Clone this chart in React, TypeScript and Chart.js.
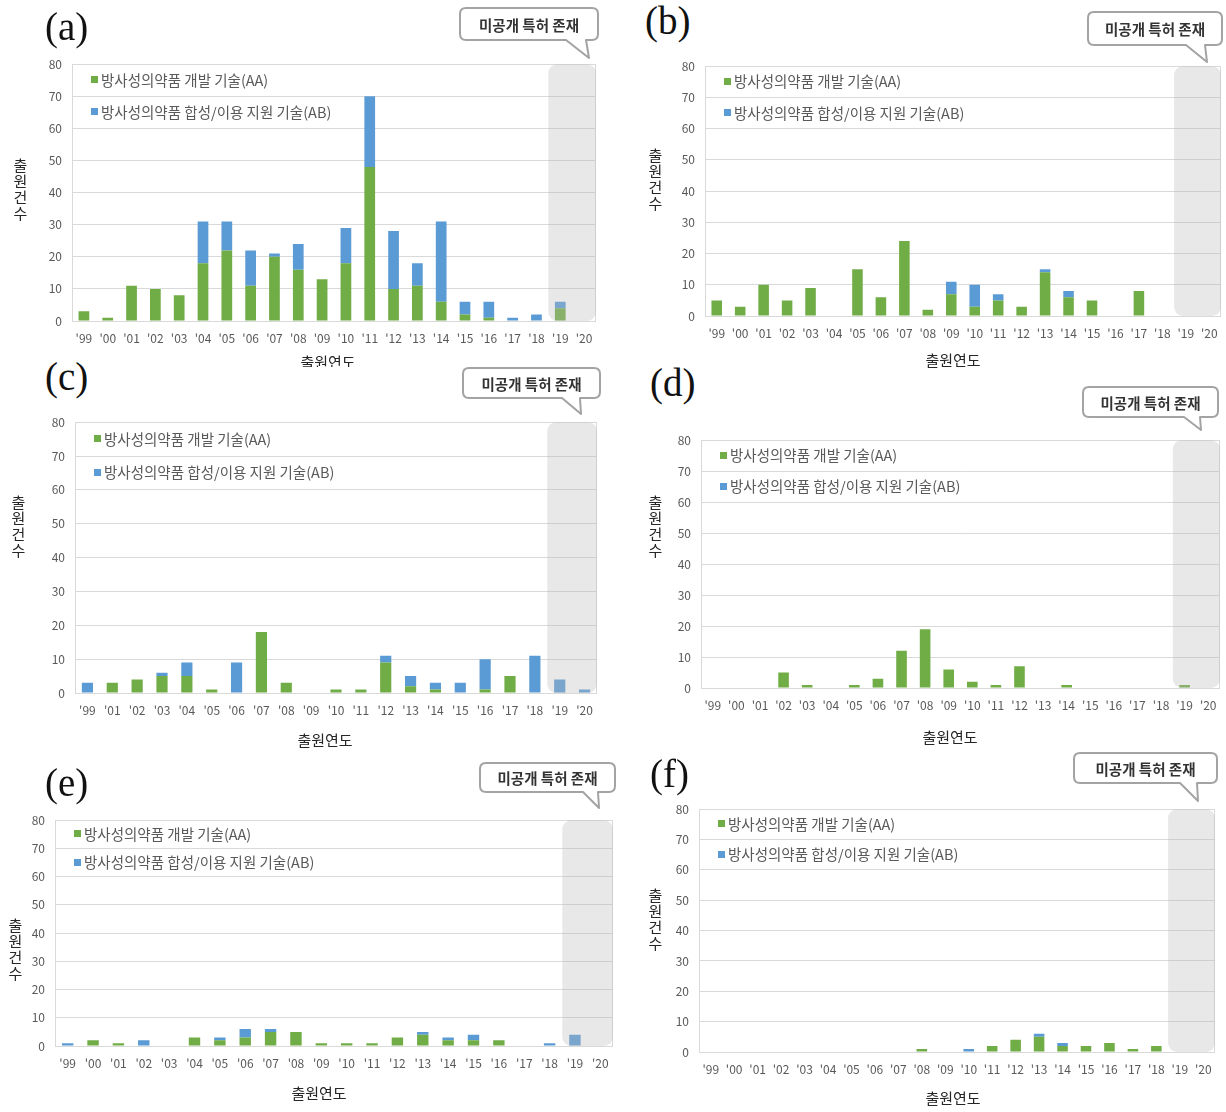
import React, { useEffect, useRef } from "react";
import { Chart, registerables } from "chart.js";

Chart.register(...registerables);

// ---------- data ----------
const YEARS = ["'99", "'00", "'01", "'02", "'03", "'04", "'05", "'06", "'07", "'08", "'09", "'10", "'11", "'12", "'13", "'14", "'15", "'16", "'17", "'18", "'19", "'20"];
const YEARS_C = ["'99", "'01", "'02", "'03", "'04", "'05", "'06", "'07", "'08", "'09", "'10", "'11", "'12", "'13", "'14", "'15", "'16", "'17", "'18", "'19", "'20"];

const LABEL_AA = "방사성의약품 개발 기술(AA)";
const LABEL_AB = "방사성의약품 합성/이용 지원 기술(AB)";
const CALLOUT_TEXT = "미공개 특허 존재";
const X_TITLE = "출원연도";
const Y_TITLE = "출원건수";
const UNPUBLISHED_FROM = "'19";

const A_AA = [3, 1, 11, 10, 8, 18, 22, 11, 20, 16, 13, 18, 48, 10, 11, 6, 2, 1, 0, 0, 4, 0];
const A_AB = [0, 0, 0, 0, 0, 13, 9, 11, 1, 8, 0, 11, 22, 18, 7, 25, 4, 5, 1, 2, 2, 0];

const B_AA = [5, 3, 10, 5, 9, 0, 15, 6, 24, 2, 7, 3, 5, 3, 14, 6, 5, 0, 8, 0, 0, 0];
const B_AB = [0, 0, 0, 0, 0, 0, 0, 0, 0, 0, 4, 7, 2, 0, 1, 2, 0, 0, 0, 0, 0, 0];

const C_AA = [0, 3, 4, 5, 5, 1, 0, 18, 3, 0, 1, 1, 9, 2, 1, 0, 1, 5, 0, 0, 0];
const C_AB = [3, 0, 0, 1, 4, 0, 9, 0, 0, 0, 0, 0, 2, 3, 2, 3, 9, 0, 11, 4, 1];

const D_AA = [0, 0, 0, 5, 1, 0, 1, 3, 12, 19, 6, 2, 1, 7, 0, 1, 0, 0, 0, 0, 1, 0];
const D_AB = [0, 0, 0, 0, 0, 0, 0, 0, 0, 0, 0, 0, 0, 0, 0, 0, 0, 0, 0, 0, 0, 0];

const E_AA = [0, 2, 1, 0, 0, 3, 2, 3, 5, 5, 1, 1, 1, 3, 4, 2, 2, 2, 0, 0, 0, 0];
const E_AB = [1, 0, 0, 2, 0, 0, 1, 3, 1, 0, 0, 0, 0, 0, 1, 1, 2, 0, 0, 1, 4, 0];

const F_AA = [0, 0, 0, 0, 0, 0, 0, 0, 0, 1, 0, 0, 2, 4, 5, 2, 2, 3, 1, 2, 0, 0];
const F_AB = [0, 0, 0, 0, 0, 0, 0, 0, 0, 0, 0, 1, 0, 0, 1, 1, 0, 0, 0, 0, 0, 0];

const Y_MIN = 0;
const Y_MAX = 80;
const Y_STEP = 10;

// ---------- styles / layout ----------
const GREEN = "#70ad47";
const BLUE = "#5b9bd5";
const GRID = "#d9d9d9";
const TICK = "#595959";
const FONT = "'Noto Sans CJK KR', 'Noto Sans', sans-serif";

const PAD_L = 48;
const PAD_T = 14;
const PAD_R = 8;
const PAD_B = 32;

type Plot = { l: number; t: number; r: number; b: number };
type PanelSpec = { tag: string; labels: string[]; aa: number[]; ab: number[]; plot: Plot };

const PANELS: PanelSpec[] = [
  { tag: "(a)", labels: YEARS, aa: A_AA, ab: A_AB, plot: { l: 72, t: 61, r: 596, b: 321 } },
  { tag: "(b)", labels: YEARS, aa: B_AA, ab: B_AB, plot: { l: 705, t: 63, r: 1221, b: 316 } },
  { tag: "(c)", labels: YEARS_C, aa: C_AA, ab: C_AB, plot: { l: 75, t: 419, r: 597, b: 693 } },
  { tag: "(d)", labels: YEARS, aa: D_AA, ab: D_AB, plot: { l: 701, t: 437, r: 1220, b: 688 } },
  { tag: "(e)", labels: YEARS, aa: E_AA, ab: E_AB, plot: { l: 55, t: 817, r: 613, b: 1046 } },
  { tag: "(f)", labels: YEARS, aa: F_AA, ab: F_AB, plot: { l: 699, t: 806, r: 1215, b: 1052 } },
];

const TAG_POS = [
  { x: 45, y: 7 },
  { x: 645, y: 1 },
  { x: 45, y: 357 },
  { x: 650, y: 363 },
  { x: 45, y: 763 },
  { x: 650, y: 754 },
];

const CALLOUTS = [
  { x0: 460, y0: 8, x1: 598, y1: 40, tx0: 566, tx1: 586, px: 589, py: 58 },
  { x0: 1088, y0: 12, x1: 1222, y1: 45, tx0: 1186, tx1: 1205, px: 1207, py: 62 },
  { x0: 463, y0: 368, x1: 600, y1: 398, tx0: 562, tx1: 580, px: 581, py: 414 },
  { x0: 1083, y0: 387, x1: 1218, y1: 417, tx0: 1184, tx1: 1200, px: 1201, py: 430 },
  { x0: 480, y0: 763, x1: 615, y1: 792, tx0: 583, tx1: 598, px: 599, py: 808 },
  { x0: 1074, y0: 753, x1: 1217, y1: 783, tx0: 1180, tx1: 1197, px: 1198, py: 801 },
];

const Y_TITLES = [
  { x: 20, y: 190 },
  { x: 655, y: 180 },
  { x: 18, y: 527 },
  { x: 655, y: 527 },
  { x: 15, y: 950 },
  { x: 655, y: 920 },
];

const X_TITLES = [
  { x: 328, y: 362, clipBottom: 367 },
  { x: 953, y: 360 },
  { x: 325, y: 740 },
  { x: 950, y: 737 },
  { x: 319, y: 1093 },
  { x: 953, y: 1098 },
];

// ---------- plugin ----------
const decorPlugin = {
  id: "decor",
  beforeDatasetsDraw(chart: any) {
    const { ctx, chartArea: ca } = chart;
    ctx.save();
    ctx.strokeStyle = GRID;
    ctx.lineWidth = 1;
    ctx.strokeRect(Math.round(ca.left) + 0.5, Math.round(ca.top) + 0.5, Math.round(ca.right - ca.left) - 1, Math.round(ca.bottom - ca.top));
    ctx.restore();
  },
  afterDatasetsDraw(chart: any) {
    const { ctx, chartArea: ca } = chart;
    const x = chart.scales.x;
    const labels = chart.data.labels as string[];
    const idx = labels.indexOf(UNPUBLISHED_FROM);
    if (idx < 0) return;
    const half = (x.getPixelForValue(1) - x.getPixelForValue(0)) / 2;
    const x0 = x.getPixelForValue(idx) - half;
    ctx.save();
    ctx.fillStyle = "rgba(185,185,185,0.33)";
    ctx.beginPath();
    (ctx as any).roundRect(x0, ca.top, ca.right - x0, ca.bottom - ca.top, 9);
    ctx.fill();
    ctx.restore();
  },
  afterDraw(chart: any) {
    const { ctx, chartArea: ca } = chart;
    const y = chart.scales.y;
    const rows = [
      { v: 75, ds: chart.data.datasets[0] },
      { v: 65, ds: chart.data.datasets[1] },
    ];
    ctx.save();
    ctx.font = `14.5px ${FONT}`;
    ctx.textBaseline = "middle";
    ctx.textAlign = "left";
    for (const row of rows) {
      const py = y.getPixelForValue(row.v) - 1;
      ctx.fillStyle = row.ds.backgroundColor;
      ctx.fillRect(ca.left + 19, Math.round(py - 3), 7, 7);
      ctx.fillStyle = TICK;
      ctx.fillText(row.ds.label, ca.left + 29, py + 1);
    }
    ctx.restore();
  },
};

function Panel({ spec }: { spec: PanelSpec }) {
  const ref = useRef<HTMLCanvasElement | null>(null);
  const { l, t, r, b } = spec.plot;
  const width = r - l + PAD_L + PAD_R;
  const height = b - t + PAD_T + PAD_B;

  useEffect(() => {
    if (!ref.current) return;
    const chart = new Chart(ref.current, {
      type: "bar",
      data: {
        labels: spec.labels,
        datasets: [
          { label: LABEL_AA, data: spec.aa, backgroundColor: GREEN, barPercentage: 0.45, categoryPercentage: 1 },
          { label: LABEL_AB, data: spec.ab, backgroundColor: BLUE, barPercentage: 0.45, categoryPercentage: 1 },
        ],
      },
      options: {
        responsive: false,
        animation: false,
        events: [],
        layout: { padding: { left: 0, top: PAD_T, right: PAD_R, bottom: 0 } },
        plugins: { legend: { display: false }, tooltip: { enabled: false } },
        scales: {
          x: {
            stacked: true,
            grid: { display: false, drawTicks: false },
            border: { display: false },
            ticks: { color: TICK, font: { family: FONT, size: 12 }, padding: 10, maxRotation: 0, autoSkip: false },
            afterFit: (s: any) => {
              s.height = PAD_B;
            },
          },
          y: {
            stacked: true,
            min: Y_MIN,
            max: Y_MAX,
            grid: { color: GRID, drawTicks: false },
            border: { display: false },
            ticks: { stepSize: Y_STEP, color: TICK, font: { family: FONT, size: 12 }, padding: 10 },
            afterFit: (s: any) => {
              s.width = PAD_L;
            },
          },
        },
      } as any,
      plugins: [decorPlugin],
    });
    return () => chart.destroy();
  }, []);

  return (
    <canvas
      ref={ref}
      width={width}
      height={height}
      style={{ position: "absolute", left: l - PAD_L, top: t - PAD_T, width, height }}
    />
  );
}

function calloutPath(c: any) {
  const rr = 6;
  return `M ${c.x0 + rr} ${c.y0} H ${c.x1 - rr} Q ${c.x1} ${c.y0} ${c.x1} ${c.y0 + rr} V ${c.y1 - rr} Q ${c.x1} ${c.y1} ${c.x1 - rr} ${c.y1} H ${c.tx1} L ${c.px} ${c.py} L ${c.tx0} ${c.y1} H ${c.x0 + rr} Q ${c.x0} ${c.y1} ${c.x0} ${c.y1 - rr} V ${c.y0 + rr} Q ${c.x0} ${c.y0} ${c.x0 + rr} ${c.y0} Z`;
}

export default function App() {
  return (
    <div style={{ position: "absolute", left: 0, top: 0, width: 1226, height: 1112, background: "#fff", overflow: "hidden" }}>
      {PANELS.map((p) => (
        <Panel key={p.tag} spec={p} />
      ))}
      {PANELS.map((p, i) => (
        <div
          key={"tag" + i}
          style={{
            position: "absolute",
            left: TAG_POS[i].x,
            top: TAG_POS[i].y,
            fontFamily: "'Liberation Serif', 'Times New Roman', serif",
            fontSize: 39,
            lineHeight: 1,
            color: "#111",
          }}
        >
          {p.tag}
        </div>
      ))}
      <svg width={1226} height={1112} style={{ position: "absolute", left: 0, top: 0, pointerEvents: "none" }}>
        {CALLOUTS.map((c, i) => (
          <path key={i} d={calloutPath(c)} fill="#fff" stroke="#a3a3a3" strokeWidth={2} strokeLinejoin="round" />
        ))}
      </svg>
      {CALLOUTS.map((c, i) => (
        <div
          key={"ct" + i}
          style={{
            position: "absolute",
            left: c.x0,
            top: c.y0,
            width: c.x1 - c.x0,
            height: c.y1 - c.y0,
            display: "flex",
            alignItems: "center",
            justifyContent: "center",
            fontFamily: FONT,
            fontWeight: 700,
            fontSize: 14.5,
            color: "#333",
          }}
        >
          {CALLOUT_TEXT}
        </div>
      ))}
      {Y_TITLES.map((p, i) => (
        <div
          key={"yt" + i}
          style={{
            position: "absolute",
            left: p.x - 9,
            top: p.y - 32,
            writingMode: "vertical-rl",
            textOrientation: "upright",
            fontFamily: FONT,
            fontSize: 15,
            lineHeight: "18px",
            letterSpacing: "1px",
            color: "#262626",
          }}
        >
          {Y_TITLE}
        </div>
      ))}
      {X_TITLES.map((p, i) => {
        const top = p.y - 11;
        const clipH = p.clipBottom ? p.clipBottom - top : 24;
        return (
          <div
            key={"xt" + i}
            style={{
              position: "absolute",
              left: p.x - 50,
              top,
              width: 100,
              height: clipH,
              overflow: "hidden",
              textAlign: "center",
              fontFamily: FONT,
              fontSize: 15,
              lineHeight: "22px",
              color: "#262626",
            }}
          >
            {X_TITLE}
          </div>
        );
      })}
    </div>
  );
}
